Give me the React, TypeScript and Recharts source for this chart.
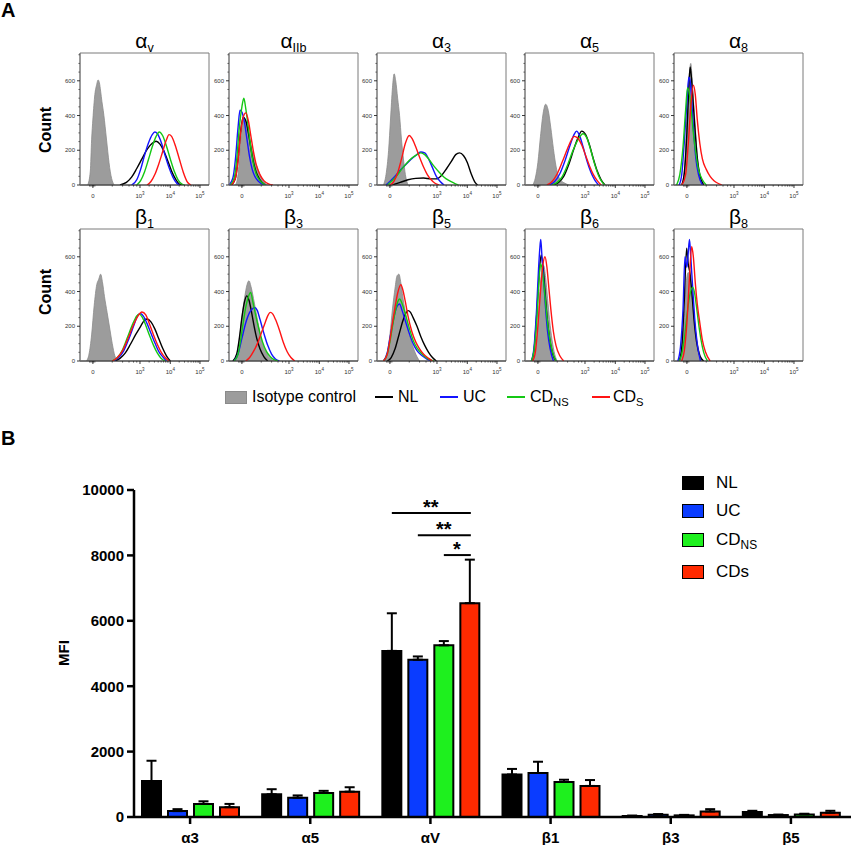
import React from 'react';
import {
  ComposedChart, Area, Line, XAxis, YAxis, ReferenceArea,
  BarChart, Bar, ErrorBar, LabelList, Legend,
} from 'recharts';

const FONT = 'Arial, "Liberation Sans", Helvetica, sans-serif';

// ---------- panel A: flow histograms, [display position, count] ----------
// display axis runs 0..100 across the plot box (biexponential scale)
const HX_MAJOR = [10, 46.5, 70, 93];
const HX_LABELS = ['0', '10^3', '10^4', '10^5'];
const HX_MINOR = [7.5, 8.5, 9.5, 10.5, 11.5, 25, 33, 38, 41.5, 44, 53.6, 57.7, 60.6, 62.9, 64.8, 66.4, 67.7, 68.9, 76.9, 81, 83.8, 86.1, 87.9, 89.4, 90.8, 92];
const HY_MAJOR = [0, 200, 400, 600];
const HY_MINOR = [50, 100, 150, 250, 300, 350, 450, 500, 550, 650, 700, 750];

const AV_ISO = [[6, 0], [8, 80], [9, 260], [10, 380], [11.5, 520], [13, 580], [14, 605], [15, 590], [16, 540], [17, 480], [18, 430], [19, 370], [20, 300], [21, 230], [22, 160], [23, 100], [24, 55], [25, 25], [26.5, 0]];
const AV_NL = [[31, 0], [36, 15], [40, 45], [44, 95], [48, 150], [52, 205], [56, 240], [59, 252], [62, 235], [65, 195], [68, 140], [71, 80], [74, 35], [77, 5], [79, 0]];
const AV_UC = [[40, 0], [44, 30], [47, 90], [50, 170], [53, 240], [56, 290], [58, 305], [60, 295], [63, 245], [66, 170], [69, 100], [72, 45], [75, 10], [77, 0]];
const AV_NS = [[44, 0], [47, 25], [50, 75], [53, 145], [56, 220], [59, 280], [61.5, 305], [64, 285], [67, 225], [70, 150], [73, 80], [76, 30], [79, 5], [81, 0]];
const AV_S = [[52, 0], [55, 20], [58, 60], [61, 120], [64, 190], [67, 260], [69, 290], [71, 280], [74, 225], [77, 150], [80, 75], [83, 20], [86, 0]];

const AIIB_ISO = [[5, 0], [7, 60], [8.5, 200], [10, 330], [11.5, 380], [13, 370], [14.5, 330], [16, 270], [18, 200], [20, 140], [22, 100], [24, 60], [26, 30], [28, 10], [30, 0]];
const AIIB_NL = [[2, 0], [5, 40], [7, 150], [9, 310], [11, 390], [13, 370], [15, 300], [17, 210], [19, 130], [21, 75], [24, 30], [28, 0]];
const AIIB_UC = [[0, 0], [3, 40], [5, 150], [7, 330], [8.5, 430], [10, 420], [12, 360], [14, 260], [16, 160], [18, 90], [20, 50], [23, 20], [27, 0]];
const AIIB_NS = [[1, 0], [4, 40], [6, 150], [8, 330], [10, 450], [11.5, 500], [13, 440], [15, 330], [17, 210], [19, 120], [21, 65], [24, 25], [28, 0]];
const AIIB_S = [[2, 0], [5, 40], [7, 140], [9, 300], [11, 390], [13, 415], [15, 370], [17, 280], [19, 190], [21, 120], [24, 60], [27, 25], [31, 5], [34, 0]];

const A3_ISO = [[5, 0], [7, 60], [9, 200], [10.5, 380], [12, 560], [13.3, 640], [14.5, 600], [16, 500], [17.5, 400], [19, 260], [20.5, 150], [22, 60], [24, 0]];
const A3_NL = [[12, 0], [18, 15], [24, 30], [30, 38], [36, 40], [42, 35], [46, 35], [50, 55], [54, 95], [58, 140], [61, 175], [64, 185], [67, 170], [70, 130], [73, 65], [76, 15], [78, 0]];
const A3_UC = [[7, 0], [10, 20], [14, 50], [18, 85], [22, 115], [26, 145], [30, 170], [34, 190], [37, 185], [40, 150], [43, 100], [46, 50], [49, 20], [52, 0]];
const A3_NS = [[8, 0], [11, 20], [15, 50], [19, 90], [23, 125], [27, 155], [31, 175], [34, 185], [37, 175], [40, 150], [44, 110], [48, 75], [52, 45], [56, 25], [60, 10], [63, 0]];
const A3_S = [[10, 0], [13, 20], [16, 70], [19, 150], [22, 240], [25, 285], [27, 270], [30, 220], [33, 160], [36, 105], [39, 60], [42, 30], [45, 10], [48, 0]];

const A5_ISO = [[6, 0], [8, 40], [10, 130], [12, 280], [14, 410], [16, 465], [18, 430], [20, 330], [22, 210], [24, 110], [26, 50], [28, 25], [31, 10], [34, 0]];
const A5_NL = [[22, 0], [26, 15], [30, 50], [34, 120], [38, 210], [41, 270], [44, 310], [47, 290], [50, 230], [53, 150], [56, 80], [59, 30], [62, 0]];
const A5_UC = [[19, 0], [23, 20], [27, 65], [31, 140], [35, 230], [38, 290], [40, 310], [42, 290], [45, 220], [48, 140], [51, 75], [54, 30], [57, 0]];
const A5_NS = [[21, 0], [25, 15], [29, 50], [33, 115], [37, 195], [41, 260], [45, 295], [48, 270], [51, 200], [54, 120], [57, 55], [60, 15], [62, 0]];
const A5_S = [[17, 0], [21, 20], [25, 65], [29, 135], [33, 210], [36, 260], [38, 280], [41, 270], [44, 230], [47, 170], [50, 110], [53, 60], [56, 25], [59, 0]];

const A8_ISO = [[6, 0], [8, 80], [9.5, 300], [11, 560], [12, 650], [13, 700], [14, 620], [15, 500], [16.5, 330], [18, 170], [19.5, 60], [21, 0]];
const A8_NL = [[6, 0], [8, 70], [10, 300], [11.5, 560], [12.5, 680], [13.5, 620], [15, 460], [16.5, 300], [18, 160], [20, 60], [23, 0]];
const A8_UC = [[4, 0], [6, 60], [8, 250], [10, 480], [11.5, 620], [12.5, 600], [14, 450], [15.5, 280], [17, 150], [19, 60], [22, 0]];
const A8_NS = [[2, 0], [4.5, 60], [7, 220], [9, 430], [10.5, 560], [12, 520], [13.5, 420], [15, 300], [17, 180], [19, 90], [22, 30], [25, 0]];
const A8_S = [[6, 0], [9, 60], [11, 230], [13, 450], [15, 575], [16.5, 520], [18, 380], [20, 240], [22, 150], [25, 90], [28, 50], [31, 25], [34, 10], [37, 0]];

const B1_ISO = [[5, 0], [7, 40], [9, 150], [11, 320], [13, 440], [14.5, 470], [16, 500], [17.5, 450], [19, 370], [21, 280], [23, 190], [25, 100], [27, 30], [29, 0]];
const B1_NL = [[27, 0], [31, 15], [35, 45], [39, 95], [43, 150], [47, 200], [50, 235], [52, 242], [55, 225], [58, 185], [61, 130], [64, 75], [67, 30], [70, 0]];
const B1_UC = [[26, 0], [30, 20], [34, 60], [38, 130], [42, 210], [45, 265], [47, 272], [49, 260], [52, 215], [55, 160], [58, 105], [61, 55], [64, 25], [67, 0]];
const B1_NS = [[25, 0], [29, 20], [33, 65], [37, 140], [41, 215], [44, 260], [46, 270], [48, 255], [51, 205], [54, 145], [57, 90], [60, 45], [63, 15], [66, 0]];
const B1_S = [[25, 0], [29, 20], [33, 60], [37, 125], [41, 200], [45, 260], [48, 282], [51, 265], [54, 210], [57, 150], [60, 95], [63, 50], [66, 20], [69, 0]];

const B3_ISO = [[3, 0], [6, 40], [8, 120], [10, 250], [12, 360], [14, 440], [15.5, 462], [17, 430], [19, 360], [21, 280], [23, 200], [25, 130], [27, 80], [30, 35], [33, 10], [35, 0]];
const B3_NL = [[3, 0], [6, 40], [8, 130], [10, 250], [12, 340], [13.7, 375], [15.5, 350], [17.5, 280], [19.5, 200], [21.5, 130], [24, 70], [27, 25], [30, 0]];
const B3_UC = [[4, 0], [7, 40], [10, 130], [13, 220], [16, 280], [18, 300], [20, 308], [22, 290], [24, 240], [27, 160], [30, 90], [33, 40], [36, 12], [39, 0]];
const B3_NS = [[4, 0], [7, 40], [9, 120], [11, 220], [13, 310], [15, 370], [16.8, 395], [18.5, 340], [20.5, 270], [23, 190], [26, 110], [29, 55], [32, 25], [35, 8], [38, 0]];
const B3_S = [[13, 0], [16, 20], [19, 55], [22, 100], [25, 160], [28, 220], [30, 260], [32, 280], [34, 270], [36, 240], [39, 180], [42, 110], [45, 55], [48, 20], [51, 0]];

const B5_ISO = [[6, 0], [8, 50], [10, 150], [12, 300], [14, 420], [15.5, 490], [17, 500], [18.5, 450], [20, 370], [22, 280], [24, 200], [26, 130], [28, 80], [30, 40], [33, 0]];
const B5_NL = [[8, 0], [11, 20], [14, 70], [17, 150], [20, 230], [22, 270], [24, 290], [26, 280], [28, 250], [31, 200], [34, 140], [37, 90], [40, 50], [43, 20], [46, 0]];
const B5_UC = [[5, 0], [8, 50], [10, 130], [12, 210], [14, 280], [16, 320], [17.5, 328], [19.5, 290], [22, 230], [25, 160], [28, 100], [31, 60], [35, 30], [39, 10], [42, 0]];
const B5_NS = [[5, 0], [8, 40], [10, 110], [12, 200], [14, 280], [16, 340], [17.5, 357], [19.5, 330], [22, 270], [25, 190], [28, 120], [31, 75], [35, 40], [39, 15], [44, 0]];
const B5_S = [[5, 0], [8, 40], [10, 120], [12, 220], [14, 310], [16, 390], [18.5, 440], [20, 410], [22, 340], [24, 260], [27, 170], [30, 110], [33, 70], [36, 40], [40, 15], [43, 0]];

const B6_ISO = [[6, 0], [8, 60], [10, 220], [11.5, 400], [13, 520], [14.5, 550], [16, 480], [17.5, 360], [19, 240], [21, 120], [23, 40], [25, 0]];
const B6_NL = [[5, 0], [7, 60], [9, 260], [11, 500], [12.5, 610], [14, 540], [15.5, 400], [17, 260], [19, 130], [21.5, 40], [24, 0]];
const B6_UC = [[5, 0], [7, 80], [9, 300], [10.5, 530], [11.5, 650], [12.2, 700], [13, 620], [14.5, 460], [16, 300], [17.5, 170], [19.5, 70], [22, 0]];
const B6_NS = [[5, 0], [7, 60], [9, 220], [10.5, 420], [12, 560], [13.5, 520], [15, 410], [16.5, 290], [18.5, 160], [21, 60], [24, 0]];
const B6_S = [[6, 0], [8, 50], [10, 200], [12, 400], [14, 560], [15.5, 600], [17, 540], [18.5, 420], [20, 300], [22, 170], [24, 90], [27, 30], [30, 0]];

const B8_ISO = [[4, 0], [6, 60], [8, 250], [9.5, 450], [11, 510], [12.5, 480], [14, 380], [15.5, 260], [17.5, 130], [20, 40], [23, 0]];
const B8_NL = [[4, 0], [6, 80], [8, 350], [9.8, 650], [11, 560], [12.5, 500], [14, 380], [15.5, 240], [17.5, 110], [20, 30], [23, 0]];
const B8_UC = [[3, 0], [5, 80], [7, 300], [8.5, 600], [10, 540], [11, 620], [12, 700], [13, 600], [14.5, 420], [16, 250], [18, 100], [20.5, 0]];
const B8_NS = [[4, 0], [6, 40], [8, 130], [10, 260], [12, 370], [14.5, 425], [16, 390], [17.5, 310], [19, 220], [21, 120], [23, 50], [26, 0]];
const B8_S = [[6, 0], [8, 60], [10, 220], [12, 480], [13.7, 660], [15, 600], [16.5, 450], [18, 330], [20, 220], [22, 120], [24.5, 50], [28, 0]];

const PANELS = [
  { sym: 'α', sub: 'v', iso: AV_ISO, nl: AV_NL, uc: AV_UC, ns: AV_NS, s: AV_S },
  { sym: 'α', sub: 'IIb', iso: AIIB_ISO, nl: AIIB_NL, uc: AIIB_UC, ns: AIIB_NS, s: AIIB_S },
  { sym: 'α', sub: '3', iso: A3_ISO, nl: A3_NL, uc: A3_UC, ns: A3_NS, s: A3_S },
  { sym: 'α', sub: '5', iso: A5_ISO, nl: A5_NL, uc: A5_UC, ns: A5_NS, s: A5_S },
  { sym: 'α', sub: '8', iso: A8_ISO, nl: A8_NL, uc: A8_UC, ns: A8_NS, s: A8_S },
  { sym: 'β', sub: '1', iso: B1_ISO, nl: B1_NL, uc: B1_UC, ns: B1_NS, s: B1_S },
  { sym: 'β', sub: '3', iso: B3_ISO, nl: B3_NL, uc: B3_UC, ns: B3_NS, s: B3_S },
  { sym: 'β', sub: '5', iso: B5_ISO, nl: B5_NL, uc: B5_UC, ns: B5_NS, s: B5_S },
  { sym: 'β', sub: '6', iso: B6_ISO, nl: B6_NL, uc: B6_UC, ns: B6_NS, s: B6_S },
  { sym: 'β', sub: '8', iso: B8_ISO, nl: B8_NL, uc: B8_UC, ns: B8_NS, s: B8_S },
];

const LINE_COLORS = { nl: '#000000', uc: '#1414ff', ns: '#14c814', s: '#ff1414' };

// ---------- panel B: MFI bar chart ----------
const CATS = ['α3', 'α5', 'αV', 'β1', 'β3', 'β5'];
const NL_MFI = [1100, 695, 5080, 1300, 30, 150];
const NL_SEM = [620, 155, 1150, 170, 15, 40];
const UC_MFI = [180, 590, 4810, 1345, 70, 60];
const UC_SEM = [60, 70, 100, 345, 20, 15];
const NS_MFI = [400, 735, 5250, 1070, 50, 80];
const NS_SEM = [80, 65, 130, 70, 15, 20];
const S_MFI = [300, 775, 6540, 950, 170, 130];
const S_SEM = [100, 135, 1330, 180, 70, 60];
const MFI_TICKS = [0, 2000, 4000, 6000, 8000, 10000];

// significance brackets over αV: level, bars back from CDs, stars
const SIG_CAT = 2;
const SIG_LEVELS = [9300, 8620, 8010];
const SIG_FROM = [3, 2, 1];
const SIG_STARS = ['**', '**', '*'];

const BAR_COLORS = { nl: '#000000', uc: '#0a3cff', ns: '#1ef01e', s: '#ff2a00' };
const BAR_SIZE = 19;
const BAR_GAP = 7;

const barData = CATS.map((cat, i) => ({
  cat,
  nl: NL_MFI[i], nlE: [0, NL_SEM[i]],
  uc: UC_MFI[i], ucE: [0, UC_SEM[i]],
  ns: NS_MFI[i], nsE: [0, NS_SEM[i]],
  s: S_MFI[i], sE: [0, S_SEM[i]],
}));

const toPts = (p: number[][]) => p.map(([x, y]) => ({ x, y }));

const HistXTick = (props: any) => {
  const { x, y, payload } = props;
  const v = payload.value;
  const i = HX_MAJOR.indexOf(v);
  if (i < 0) {
    return <line x1={x} x2={x} y1={y} y2={y + 1.6} stroke="#222" strokeWidth={0.7} />;
  }
  const [base, exp] = HX_LABELS[i].split('^');
  return (
    <g>
      <line x1={x} x2={x} y1={y} y2={y + 3} stroke="#222" strokeWidth={0.9} />
      <text x={x} y={y + 13} textAnchor="middle" fontSize={6} fill="#333" fontFamily={FONT}>
        {base}
        {exp ? <tspan dy={-3} fontSize={4.5}>{exp}</tspan> : null}
      </text>
    </g>
  );
};

const HistYTick = (props: any) => {
  const { x, y, payload } = props;
  const v = payload.value;
  if (HY_MAJOR.indexOf(v) < 0) {
    return <line x1={x - 1.6} x2={x} y1={y} y2={y} stroke="#333" strokeWidth={0.7} />;
  }
  return (
    <g>
      <line x1={x - 3} x2={x} y1={y} y2={y} stroke="#222" strokeWidth={0.9} />
      <text x={x - 5} y={y + 2} textAnchor="end" fontSize={6} fill="#333" fontFamily={FONT}>{v}</text>
    </g>
  );
};

const HX_ALL = [...HX_MAJOR, ...HX_MINOR].sort((a, b) => a - b);
const HY_ALL = [...HY_MAJOR, ...HY_MINOR].sort((a, b) => a - b);

const COL_LEFT = [80, 229, 377, 525, 674];
const ROW_TOP = [53, 229];
const BOX_W = 129;
const BOX_H = 132;

function Histo({ panel, left, top }: any) {
  const keys = ['nl', 'uc', 'ns', 's'];
  return (
    <>
      <div style={{ position: 'absolute', left: left - 22, top: top - 4 }}>
        <ComposedChart width={22 + BOX_W + 4} height={4 + BOX_H + 16} margin={{ top: 4, right: 4, bottom: 0, left: 0 }}>
          <XAxis type="number" dataKey="x" domain={[0, 100]} ticks={HX_ALL} interval={0}
            tick={<HistXTick />} tickLine={false} tickSize={0} tickMargin={0} height={16}
            axisLine={{ stroke: '#333', strokeWidth: 1 }} allowDataOverflow />
          <YAxis type="number" domain={[0, 760]} ticks={HY_ALL} interval={0}
            tick={<HistYTick />} tickLine={false} tickSize={0} tickMargin={0} width={22}
            axisLine={{ stroke: '#777', strokeWidth: 1 }} allowDataOverflow />
          <Area data={toPts(panel.iso)} dataKey="y" type="monotone" stroke="#8a8a8a" strokeWidth={0.8}
            fill="#9c9c9c" fillOpacity={1} isAnimationActive={false} />
          {keys.map((k) => (
            <Line key={k} data={toPts(panel[k])} dataKey="y" type="monotone" stroke={(LINE_COLORS as any)[k]}
              strokeWidth={1.4} dot={false} activeDot={false} isAnimationActive={false} />
          ))}
          <ReferenceArea x1={0} x2={100} y1={0} y2={760} fill="none" stroke="#7a7a7a" strokeWidth={1} ifOverflow="visible" />
        </ComposedChart>
      </div>
      <div style={{
        position: 'absolute', left, top: top - 23, width: BOX_W, textAlign: 'center',
        fontSize: 21, lineHeight: '21px', fontFamily: FONT, color: '#000',
      }}>
        {panel.sym}
        <sub style={{ fontSize: '0.6em', verticalAlign: '-0.3em', lineHeight: 0 }}>{panel.sub}</sub>
      </div>
    </>
  );
}

const SigMarks = (props: any) => {
  const { index } = props;
  if (index !== SIG_CAT) return null;
  const vb = props.viewBox && props.viewBox.width !== undefined ? props.viewBox : props;
  const { x, y, width, height } = vb;
  const pitch = width + BAR_GAP;
  const cx = x + width / 2;
  const base = y + height;
  const k = height / S_MFI[index];
  return (
    <g>
      {SIG_LEVELS.map((lv, j) => {
        const yy = base - lv * k;
        const x0 = cx - SIG_FROM[j] * pitch;
        return (
          <g key={j}>
            <line x1={x0} x2={cx + 1} y1={yy} y2={yy} stroke="#000" strokeWidth={2} />
            <text x={(x0 + cx) / 2} y={yy + 1} textAnchor="middle" fontSize={20} fontWeight="bold" fontFamily={FONT} fill="#000">
              {SIG_STARS[j]}
            </text>
          </g>
        );
      })}
    </g>
  );
};

const LEG_B = [
  { key: 'nl', main: 'NL', sub: '', cy: 13 },
  { key: 'uc', main: 'UC', sub: '', cy: 41 },
  { key: 'ns', main: 'CD', sub: 'NS', cy: 70 },
  { key: 's', main: 'CDs', sub: '', cy: 102 },
];

const LegendB = () => (
  <div style={{ position: 'relative', width: 170, height: 115, fontFamily: FONT }}>
    {LEG_B.map((r) => (
      <React.Fragment key={r.key}>
        <div style={{
          position: 'absolute', left: 0, top: r.cy - 7, width: 20, height: 12,
          background: (BAR_COLORS as any)[r.key], border: '1.5px solid #000',
        }} />
        <div style={{ position: 'absolute', left: 34, top: r.cy - 9, fontSize: 17, lineHeight: '17px', color: '#000', whiteSpace: 'nowrap' }}>
          {r.main}
          {r.sub ? <sub style={{ fontSize: '0.7em', verticalAlign: '-0.35em', lineHeight: 0 }}>{r.sub}</sub> : null}
        </div>
      </React.Fragment>
    ))}
  </div>
);

const LEG_A = [
  { key: 'nl', main: 'NL', sub: '', lx: 375, tx: 398 },
  { key: 'uc', main: 'UC', sub: '', lx: 440, tx: 463 },
  { key: 'ns', main: 'CD', sub: 'NS', lx: 507, tx: 530 },
  { key: 's', main: 'CD', sub: 'S', lx: 592, tx: 613 },
];

function RotLabel({ text, cx, cy, size }: any) {
  return (
    <div style={{
      position: 'absolute', left: cx - 40, top: cy - 10, width: 80, height: 20, lineHeight: '20px',
      textAlign: 'center', fontSize: size, fontWeight: 'bold', fontFamily: FONT,
      transform: 'rotate(-90deg)', color: '#000',
    }}>{text}</div>
  );
}

export default function App() {
  return (
    <div style={{ position: 'absolute', left: 0, top: 0, width: 851, height: 845, background: '#fff', overflow: 'hidden', fontFamily: FONT }}>
      <div style={{ position: 'absolute', left: 1, top: 0, fontSize: 20, fontWeight: 'bold', lineHeight: '20px' }}>A</div>
      <div style={{ position: 'absolute', left: 1, top: 428, fontSize: 20, fontWeight: 'bold', lineHeight: '20px' }}>B</div>

      {PANELS.map((p, i) => (
        <Histo key={i} panel={p} left={COL_LEFT[i % 5]} top={ROW_TOP[Math.floor(i / 5)]} />
      ))}
      <RotLabel text="Count" cx={45.5} cy={130} size={16} />
      <RotLabel text="Count" cx={45.5} cy={292} size={16} />

      {/* panel A legend */}
      <div style={{ position: 'absolute', left: 225, top: 391, width: 20, height: 11, background: '#9c9c9c', border: '1px solid #8a8a8a' }} />
      <div style={{ position: 'absolute', left: 252, top: 389, fontSize: 16, lineHeight: '16px', whiteSpace: 'nowrap' }}>Isotype control</div>
      {LEG_A.map((r) => (
        <React.Fragment key={r.key}>
          <div style={{ position: 'absolute', left: r.lx, top: 396, width: 18, height: 2, background: (LINE_COLORS as any)[r.key] }} />
          <div style={{ position: 'absolute', left: r.tx, top: 389, fontSize: 16, lineHeight: '16px', whiteSpace: 'nowrap' }}>
            {r.main}
            {r.sub ? <sub style={{ fontSize: '0.7em', verticalAlign: '-0.35em', lineHeight: 0 }}>{r.sub}</sub> : null}
          </div>
        </React.Fragment>
      ))}

      {/* panel B */}
      <div style={{ position: 'absolute', left: 0, top: 470 }}>
        <BarChart width={851} height={375} data={barData} margin={{ top: 20, right: 0, bottom: 0, left: 0 }}
          barSize={BAR_SIZE} barGap={BAR_GAP}>
          <XAxis dataKey="cat" padding={{ left: -4, right: 0 }} height={28} tickSize={7} tickMargin={8}
            axisLine={{ stroke: '#000', strokeWidth: 2.5 }} tickLine={{ stroke: '#000', strokeWidth: 2.5 }}
            tick={{ fill: '#000', fontSize: 15, fontWeight: 'bold', fontFamily: FONT }} />
          <YAxis domain={[0, 10000]} ticks={MFI_TICKS} width={134} tickSize={7} tickMargin={3}
            axisLine={{ stroke: '#000', strokeWidth: 2.5 }} tickLine={{ stroke: '#000', strokeWidth: 2.5 }}
            tick={{ fill: '#000', fontSize: 15, fontWeight: 'bold', fontFamily: FONT }} />
          <Legend layout="horizontal" verticalAlign="middle" align="center"
            wrapperStyle={{ left: 682, top: 0, width: 170, height: 115 }} content={<LegendB />} />
          <Bar dataKey="nl" fill={BAR_COLORS.nl} stroke="#000" strokeWidth={2} isAnimationActive={false}>
            <ErrorBar dataKey="nlE" direction="y" width={5} stroke="#000" strokeWidth={2} />
          </Bar>
          <Bar dataKey="uc" fill={BAR_COLORS.uc} stroke="#000" strokeWidth={2} isAnimationActive={false}>
            <ErrorBar dataKey="ucE" direction="y" width={5} stroke="#000" strokeWidth={2} />
          </Bar>
          <Bar dataKey="ns" fill={BAR_COLORS.ns} stroke="#000" strokeWidth={2} isAnimationActive={false}>
            <ErrorBar dataKey="nsE" direction="y" width={5} stroke="#000" strokeWidth={2} />
          </Bar>
          <Bar dataKey="s" fill={BAR_COLORS.s} stroke="#000" strokeWidth={2} isAnimationActive={false}>
            <ErrorBar dataKey="sE" direction="y" width={5} stroke="#000" strokeWidth={2} />
            <LabelList dataKey="s" content={<SigMarks />} />
          </Bar>
        </BarChart>
      </div>
      <RotLabel text="MFI" cx={64} cy={653} size={15} />
    </div>
  );
}
